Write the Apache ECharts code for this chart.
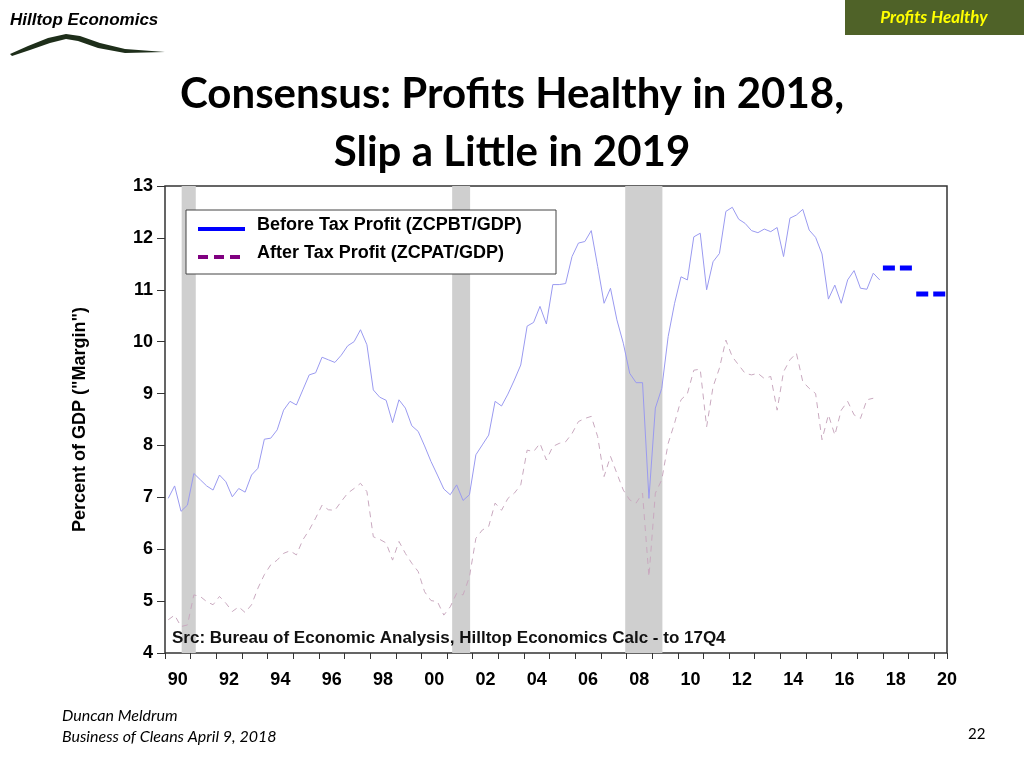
<!DOCTYPE html>
<html>
<head>
<meta charset="utf-8">
<script src="https://cdn.jsdelivr.net/npm/echarts@6/dist/echarts.min.js"></script>
<style>
  html, body { margin: 0; padding: 0; background: #fff; }
  #chart { width: 1024px; height: 768px; }
</style>
</head>
<body>
<div id="chart"></div>
<script>
// quarterly, 1990Q1 .. 2017Q4
var startYear = 1990;
var beforeTax = [
  6.98, 7.22, 6.73, 6.85, 7.46, 7.34, 7.22, 7.14, 7.43, 7.30, 7.01, 7.17, 7.10, 7.43, 7.56, 8.12,
  8.14, 8.30, 8.68, 8.85, 8.78, 9.07, 9.36, 9.40, 9.70, 9.65, 9.60, 9.74, 9.92, 10.00, 10.23, 9.94,
  9.07, 8.93, 8.87, 8.44, 8.88, 8.72, 8.38, 8.27, 7.99, 7.69, 7.43, 7.16, 7.05, 7.24, 6.94, 7.05,
  7.82, 8.01, 8.20, 8.85, 8.76, 8.99, 9.26, 9.55, 10.30, 10.37, 10.68, 10.34, 11.10, 11.10,
  11.12, 11.64, 11.90, 11.93, 12.14, 11.45, 10.74, 11.03, 10.42, 9.97, 9.39, 9.21, 9.21, 6.98,
  8.72, 9.10, 10.10, 10.74, 11.25, 11.19, 12.02, 12.09, 11.00, 11.54, 11.70, 12.51, 12.59, 12.36,
  12.28, 12.14, 12.10, 12.17, 12.12, 12.20, 11.64, 12.38, 12.44, 12.55, 12.15, 12.01, 11.69, 10.82,
  11.09, 10.74, 11.19, 11.37, 11.03, 11.01, 11.32, 11.19
];
var afterTax = [
  4.64, 4.73, 4.51, 4.54, 5.12, 5.09, 4.99, 4.93, 5.09, 4.96, 4.80, 4.89, 4.78, 4.93, 5.25, 5.51,
  5.70, 5.79, 5.92, 5.97, 5.89, 6.18, 6.37, 6.60, 6.85, 6.76, 6.75, 6.92, 7.08, 7.17, 7.27, 7.11,
  6.24, 6.19, 6.12, 5.79, 6.15, 5.92, 5.73, 5.57, 5.18, 5.01, 4.99, 4.73, 4.89, 5.15, 5.12, 5.47,
  6.21, 6.37, 6.44, 6.89, 6.75, 6.98, 7.08, 7.24, 7.91, 7.88, 8.04, 7.72, 7.98, 8.04,
  8.07, 8.23, 8.46, 8.52, 8.56, 8.17, 7.40, 7.79, 7.46, 7.14, 6.95, 6.89, 7.08, 5.47,
  7.08, 7.34, 8.04, 8.43, 8.88, 9.00, 9.45, 9.47, 8.36, 9.13, 9.49, 10.03, 9.71, 9.55,
  9.39, 9.36, 9.39, 9.29, 9.33, 8.68, 9.42, 9.65, 9.78, 9.23, 9.10, 9.00, 8.11, 8.59,
  8.20, 8.68, 8.85, 8.59, 8.52, 8.88, 8.91
];
// consensus forecasts for before tax margin
var forecast2018 = [[2018.0, 11.42], [2019.2, 11.42]];
var forecast2019 = [[2019.3, 10.92], [2020.5, 10.92]];
// recessions [start, end]
var recessions = [[1990.65, 1991.2], [2001.2, 2001.9], [2007.95, 2009.4]];

function toPairs(arr) {
  return arr.map(function (v, i) { return [startYear + (i + 0.5) / 4, v]; });
}

var chart = echarts.init(document.getElementById('chart'));
var font = 'Liberation Sans, Arial, sans-serif';

var option = {
  animation: false,
  title: {
    text: 'Consensus: Profits Healthy in 2018,\nSlip a Little in 2019',
    left: 'center', top: 60,
    textStyle: { fontFamily: 'Lato, sans-serif', fontSize: 42, fontWeight: 'bold', color: '#000', lineHeight: 58 }
  },
  graphic: [
    { type: 'rect', z: 100, shape: { x: 845, y: 0, width: 179, height: 35 }, style: { fill: '#4f6228' } },
    { type: 'text', z: 100, x: 934, y: 18, style: { text: 'Profits Healthy', fill: '#ffff00', font: 'italic bold 17px Lato, sans-serif', textAlign: 'center', textVerticalAlign: 'middle' } },
    { type: 'text', z: 100, x: 10, y: 12, style: { text: 'Hilltop Economics', fill: '#000', font: 'italic bold 17px ' + font } },
    { type: 'polygon', z: 100, shape: { points: [[10, 54], [28, 46], [48, 38], [66, 34], [80, 36], [100, 43], [125, 49], [165, 52], [125, 53], [98, 48], [78, 41], [66, 39], [50, 43], [30, 50], [12, 56]] }, style: { fill: '#1e2e1a' } },
    { type: 'text', z: 100, x: 62, y: 708, style: { text: 'Duncan Meldrum', fill: '#000', font: 'italic 16px Lato, sans-serif' } },
    { type: 'text', z: 100, x: 62, y: 729, style: { text: 'Business of Cleans April 9, 2018', fill: '#000', font: 'italic 16px Lato, sans-serif' } },
    { type: 'text', z: 100, x: 968, y: 727, style: { text: '22', fill: '#000', font: '15px Lato, sans-serif' } },
    { type: 'text', z: 100, x: 172, y: 630, style: { text: 'Src: Bureau of Economic Analysis, Hilltop Economics Calc - to 17Q4', fill: '#111', font: 'bold 17px ' + font } },
    { type: 'rect', z: 100, shape: { x: 186, y: 210, width: 370, height: 64 }, style: { fill: '#fff', stroke: '#444', lineWidth: 1 } },
    { type: 'line', z: 101, shape: { x1: 198, y1: 229, x2: 245, y2: 229 }, style: { stroke: '#0000ff', lineWidth: 4 } },
    { type: 'line', z: 101, shape: { x1: 198, y1: 257, x2: 245, y2: 257 }, style: { stroke: '#800080', lineWidth: 4, lineDash: [10, 6] } },
    { type: 'text', z: 101, x: 257, y: 216, style: { text: 'Before Tax Profit (ZCPBT/GDP)', fill: '#000', font: 'bold 18px ' + font } },
    { type: 'text', z: 101, x: 257, y: 244, style: { text: 'After Tax Profit (ZCPAT/GDP)', fill: '#000', font: 'bold 18px ' + font } }
  ],
  grid: { left: 165, right: 77, top: 186, bottom: 115, show: true, borderColor: '#333', borderWidth: 1.5 },
  xAxis: [{
    type: 'value', min: 1990, max: 2020.5, interval: 1,
    axisLine: { show: false },
    axisTick: { show: true, length: 6, lineStyle: { color: '#333' } },
    axisLabel: { show: false },
    splitLine: { show: false }
  }, {
    type: 'value', min: 1990, max: 2020.5, interval: 0.5, position: 'bottom',
    axisLine: { show: false }, axisTick: { show: false }, splitLine: { show: false },
    axisLabel: {
      margin: 18, fontFamily: font, fontSize: 18, fontWeight: 'bold', color: '#000',
      formatter: function (v) {
        var y = Math.floor(v);
        if (Math.abs(v - y - 0.5) > 0.01 || y % 2 !== 0) return '';
        var s = String(y % 100);
        return s.length < 2 ? '0' + s : s;
      }
    }
  }],
  yAxis: {
    type: 'value', min: 4, max: 13, interval: 1,
    name: 'Percent of GDP ("Margin")', nameLocation: 'middle', nameGap: 76, nameRotate: 90,
    nameTextStyle: { fontFamily: font, fontSize: 18, fontWeight: 'bold', color: '#000' },
    axisLine: { show: false },
    axisTick: { show: true, length: 8, inside: false, lineStyle: { color: '#333' } },
    axisLabel: { fontFamily: font, fontSize: 18, fontWeight: 'bold', color: '#000', margin: 12 },
    splitLine: { show: false }
  },
  series: [{
    name: 'Before Tax Profit (ZCPBT/GDP)', type: 'line', data: toPairs(beforeTax),
    showSymbol: false, lineStyle: { color: '#9a9af0', width: 1 },
    markArea: {
      silent: true, itemStyle: { color: '#cfcfcf' },
      data: recessions.map(function (r) { return [{ xAxis: r[0] }, { xAxis: r[1] }]; })
    }
  }, {
    name: 'After Tax Profit (ZCPAT/GDP)', type: 'line', data: toPairs(afterTax),
    showSymbol: false, lineStyle: { color: '#c9a9bf', width: 1, type: [6, 5] }
  }, {
    name: 'f2018', type: 'line', data: forecast2018, showSymbol: false,
    lineStyle: { color: '#0000ff', width: 5, type: [12, 5] }
  }, {
    name: 'f2019', type: 'line', data: forecast2019, showSymbol: false,
    lineStyle: { color: '#0000ff', width: 5, type: [12, 5] }
  }]
};
chart.setOption(option);
</script>
</body>
</html>
